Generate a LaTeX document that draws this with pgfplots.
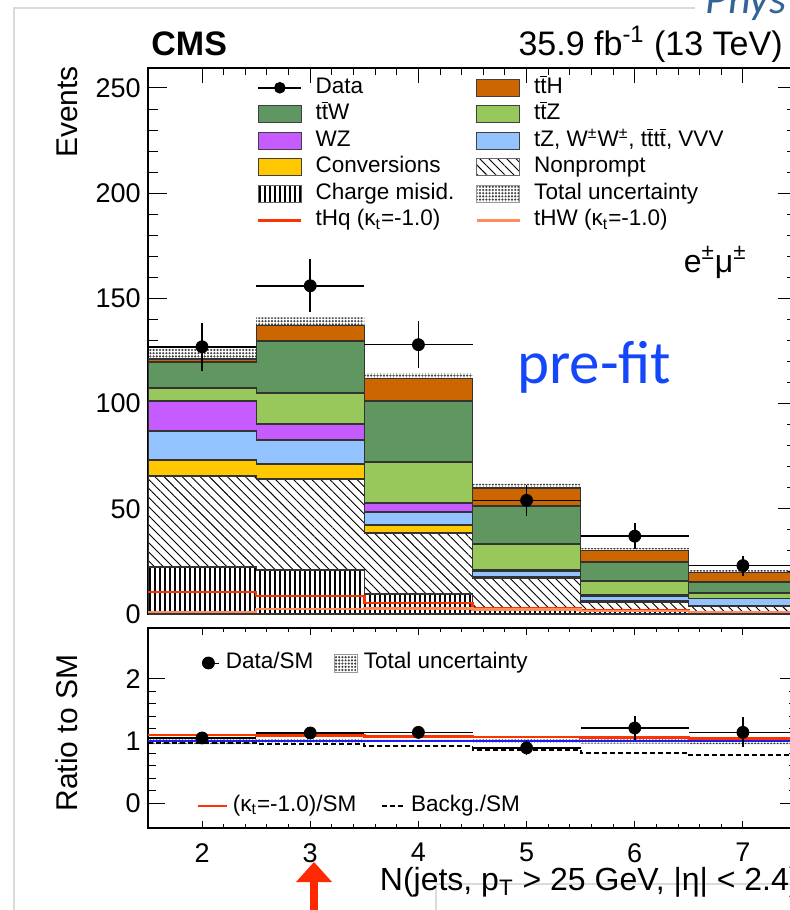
\documentclass[border=0pt]{standalone}
\usepackage{pgfplots}
\pgfplotsset{compat=1.18}
\usepackage{pgfplotstable}
\usepgfplotslibrary{fillbetween}
\usetikzlibrary{patterns,patterns.meta}
\usepackage{fontspec}
\setmainfont{Liberation Sans}
\newfontfamily\calibri{Carlito}

\definecolor{cTTH}{RGB}{204,102,0}
\definecolor{cTTW}{RGB}{96,150,96}
\definecolor{cTTZ}{RGB}{152,200,92}
\definecolor{cWZ}{RGB}{198,92,255}
\definecolor{cOTH}{RGB}{148,196,255}
\definecolor{cCONV}{RGB}{255,200,0}
\definecolor{cTHQ}{RGB}{255,51,0}
\definecolor{cTHW}{RGB}{255,140,90}
\definecolor{cPRE}{RGB}{20,70,250}
\definecolor{cPHYS}{RGB}{50,100,150}
\definecolor{cFRAME}{RGB}{218,218,218}
\definecolor{cARROW}{RGB}{255,40,0}
\definecolor{cBLUE}{RGB}{30,30,235}

\newcommand{\tb}{\ensuremath{\overline{\mbox{t}}}}
\newcommand{\Lc}[1]{\makebox[80pt][l]{#1}}

\tikzset{
 nphatch/.style={pattern={Lines[angle=-45,distance=3.2pt,line width=0.45pt]}, pattern color=black},
 cmhatch/.style={pattern={Lines[angle=90,distance=2.5pt,line width=0.55pt]}, pattern color=black},
 unchatch/.style={pattern={Dots[distance=1.6pt,radius=0.6pt]}, pattern color=black!75},
}

% stack tops (cumulative), bin edges; last row repeats the last bin
\pgfplotstableread{
x    cm    np    conv  oth   wz    ttz   ttw   tth   ulo   uhi   thq  thw
1.5  22.3  65.6  73.2  87.0  101.2 107.4 119.8 121.2 115.5 127.0 10.4 1.0
2.5  20.9  64.2  71.3  82.7  90.3  105.0 129.8 137.0 133.5 141.0 8.6  2.4
3.5  9.5   38.5  42.3  48.5  52.8  72.2  101.2 111.8 109.5 114.5 5.2  2.6
4.5  3.0   17.1  18.0  20.4  21.2  33.3  51.3  59.9  58.3  61.8  2.6  2.0
5.5  1.5   5.7   6.6   8.6   9.0   15.7  24.7  30.2  29.0  31.3  1.6  1.4
6.5  1.0   3.5   4.2   7.2   7.4   10.0  15.2  19.8  18.8  20.8  1.0  1.0
7.5  1.0   3.5   4.2   7.2   7.4   10.0  15.2  19.8  18.8  20.8  1.0  1.0
}\stack

\pgfplotstableread{
x  y    ey   ex
2  127  11.3 0.5
3  156  12.5 0.5
4  128  11.3 0.5
5  54   7.3  0.5
6  37   6.1  0.5
7  23   4.8  0.5
}\data

\pgfplotstableread{
x  r     er   ex
2  1.05  0.09 0.5
3  1.13  0.09 0.5
4  1.14  0.10 0.5
5  0.89  0.12 0.5
6  1.21  0.20 0.5
7  1.14  0.24 0.5
}\ratio

\pgfplotstableread{
x    kt    bkg   ulo   uhi   one
1.5  1.10  0.97  0.95  1.05  1
2.5  1.09  0.95  0.97  1.03  1
3.5  1.075 0.915 0.98  1.02  1
4.5  1.065 0.86  0.97  1.03  1
5.5  1.055 0.81  0.96  1.04  1
6.5  1.04  0.775 0.95  1.05  1
7.5  1.04  0.775 0.95  1.05  1
}\rlines

\begin{document}
\begin{tikzpicture}
% slide frame and decorations (drawn first, beneath the chart)
\draw[cFRAME, line width=1pt] (7pt,-470pt) -- (7pt,-4pt) -- (347.5pt,-4pt);
\node[anchor=base west, inner sep=0pt, font=\calibri\itshape\fontsize{22}{24}\selectfont, text=cPHYS] at (352.5pt,-6.5pt) {Phys};
\draw[cFRAME, line width=1pt, fill=white] (218pt,-442pt) rectangle (410pt,-470pt);
\fill[cARROW] (157pt,-431pt) -- (148pt,-441pt) -- (166pt,-441pt) -- cycle;
\fill[cARROW] (155pt,-441pt) rectangle (159pt,-460pt);

\begin{axis}[
  name=up, at={(74pt,-307pt)}, anchor=south west, scale only axis,
  width=324.5pt, height=273pt,
  xmin=1.5, xmax=7.5, ymin=0, ymax=259.5,
  xtick={2,3,4,5,6,7}, xticklabels={}, minor x tick num=4,
  ytick={0,50,100,150,200,250}, minor y tick num=4,
  tick align=inside, tick pos=both,
  major tick length=9.5pt, minor tick length=4.8pt,
  every major x tick/.append style={/pgfplots/major tick length=7.5pt},
  every minor x tick/.append style={/pgfplots/minor tick length=3.5pt},
  axis line style={line width=0.7pt},
  every tick/.style={black, line width=0.5pt},
  /pgf/number format/assume math mode=true,
  yticklabel style={font=\fontsize{13.5}{14}\selectfont, inner sep=0pt, xshift=-3.5pt},
  ylabel={Events},
  ylabel style={at={(rel axis cs:-0.108,1.004)}, anchor=base east, inner sep=0pt, font=\fontsize{15}{16}\selectfont},
  legend columns=2,
  legend cell align=left,
  legend style={at={(rel axis cs:0.168,0.983)}, anchor=north west, draw=none, fill=none,
     inner sep=0pt, outer sep=0pt,
     font=\fontsize{11.25}{13}\selectfont,
     nodes={inner sep=0pt, text height=8pt, text depth=2.5pt},
     row sep=2.75pt,
     /tikz/every odd column/.append style={column sep=6.5pt},
     /tikz/every even column/.append style={column sep=0pt}},
]
% legend entries (row-wise)
\addlegendimage{legend image code/.code={\draw[black, line width=0.8pt] (0pt,0pt) -- (21.5pt,0pt); \fill[black] (10.75pt,0pt) circle (2.7pt);}}
\addlegendentry{\Lc{Data}}
\addlegendimage{legend image code/.code={\draw[fill=cTTH, draw=black!75, line width=0.5pt] (0pt,-4.25pt) rectangle (21.5pt,4.25pt);}}
\addlegendentry{t\tb H}
\addlegendimage{legend image code/.code={\draw[fill=cTTW, draw=black!75, line width=0.5pt] (0pt,-4.25pt) rectangle (21.5pt,4.25pt);}}
\addlegendentry{\Lc{t\tb W}}
\addlegendimage{legend image code/.code={\draw[fill=cTTZ, draw=black!75, line width=0.5pt] (0pt,-4.25pt) rectangle (21.5pt,4.25pt);}}
\addlegendentry{t\tb Z}
\addlegendimage{legend image code/.code={\draw[fill=cWZ, draw=black!75, line width=0.5pt] (0pt,-4.25pt) rectangle (21.5pt,4.25pt);}}
\addlegendentry{\Lc{WZ}}
\addlegendimage{legend image code/.code={\draw[fill=cOTH, draw=black!75, line width=0.5pt] (0pt,-4.25pt) rectangle (21.5pt,4.25pt);}}
\addlegendentry{tZ, W\textsuperscript{±}W\textsuperscript{±}, t\tb t\tb, VVV}
\addlegendimage{legend image code/.code={\draw[fill=cCONV, draw=black!75, line width=0.5pt] (0pt,-4.25pt) rectangle (21.5pt,4.25pt);}}
\addlegendentry{\Lc{Conversions}}
\addlegendimage{legend image code/.code={\fill[white] (0pt,-4.25pt) rectangle (21.5pt,4.25pt); \draw[nphatch, draw=black!60, line width=0.5pt] (0pt,-4.25pt) rectangle (21.5pt,4.25pt);}}
\addlegendentry{Nonprompt}
\addlegendimage{legend image code/.code={\fill[white] (0pt,-4.25pt) rectangle (21.5pt,4.25pt); \draw[cmhatch, draw=black!60, line width=0.5pt] (0pt,-4.25pt) rectangle (21.5pt,4.25pt);}}
\addlegendentry{\Lc{Charge misid.}}
\addlegendimage{legend image code/.code={\draw[unchatch, draw=black!40, line width=0.5pt] (0pt,-4.25pt) rectangle (21.5pt,4.25pt);}}
\addlegendentry{Total uncertainty}
\addlegendimage{legend image code/.code={\draw[cTHQ, line width=1.3pt] (0pt,0pt) -- (21.5pt,0pt);}}
\addlegendentry{\Lc{tHq (κ\textsubscript{t}=-1.0)}}
\addlegendimage{legend image code/.code={\draw[cTHW, line width=1.3pt] (0pt,0pt) -- (21.5pt,0pt);}}
\addlegendentry{tHW (κ\textsubscript{t}=-1.0)}

% stacked histogram (cumulative tops)
\addplot[const plot, fill=cTTH, draw=black!80, line width=0.6pt, forget plot] table[x=x,y=tth]{\stack} \closedcycle;
\addplot[const plot, fill=cTTW, draw=black!80, line width=0.6pt, forget plot] table[x=x,y=ttw]{\stack} \closedcycle;
\addplot[const plot, fill=cTTZ, draw=black!80, line width=0.6pt, forget plot] table[x=x,y=ttz]{\stack} \closedcycle;
\addplot[const plot, fill=cWZ, draw=black!80, line width=0.6pt, forget plot] table[x=x,y=wz]{\stack} \closedcycle;
\addplot[const plot, fill=cOTH, draw=black!80, line width=0.6pt, forget plot] table[x=x,y=oth]{\stack} \closedcycle;
\addplot[const plot, fill=cCONV, draw=black!80, line width=0.6pt, forget plot] table[x=x,y=conv]{\stack} \closedcycle;
\addplot[const plot, fill=white, draw=none, forget plot] table[x=x,y=np]{\stack} \closedcycle;
\addplot[const plot, nphatch, draw=black!80, line width=0.6pt, forget plot] table[x=x,y=np]{\stack} \closedcycle;
\addplot[const plot, fill=white, draw=none, forget plot] table[x=x,y=cm]{\stack} \closedcycle;
\addplot[const plot, cmhatch, draw=black!80, line width=0.6pt, forget plot] table[x=x,y=cm]{\stack} \closedcycle;
% total uncertainty band
\addplot[const plot, draw=none, name path=ulo, forget plot] table[x=x,y=ulo]{\stack};
\addplot[const plot, draw=none, name path=uhi, forget plot] table[x=x,y=uhi]{\stack};
\addplot[unchatch, forget plot] fill between[of=ulo and uhi];
% signal lines
\addplot[const plot, cTHQ, line width=1.3pt, forget plot] table[x=x,y=thq]{\stack};
\addplot[const plot, cTHW, line width=1.3pt, forget plot] table[x=x,y=thw]{\stack};
% data
\addplot[only marks, mark=*, mark size=3pt, black, forget plot,
  error bars/.cd, x dir=both, x explicit, y dir=both, y explicit, error mark=none,
  error bar style={line width=0.8pt, black}]
  table[x=x, y=y, x error=ex, y error=ey]{\data};
\end{axis}

\begin{axis}[
  name=low, at={(74pt,-414pt)}, anchor=south west, scale only axis,
  width=324.5pt, height=100pt,
  xmin=1.5, xmax=7.5, ymin=-0.4, ymax=2.82,
  xtick={2,3,4,5,6,7}, minor x tick num=4,
  ytick={0,1,2}, minor y tick num=4,
  tick align=inside, tick pos=both,
  major tick length=8.5pt, minor tick length=4pt,
  every major x tick/.append style={/pgfplots/major tick length=3.5pt},
  every minor x tick/.append style={/pgfplots/minor tick length=1.8pt},
  axis line style={line width=0.7pt},
  every tick/.style={black, line width=0.5pt},
  /pgf/number format/assume math mode=true,
  yticklabel style={font=\fontsize{13.5}{14}\selectfont, inner sep=0pt, xshift=-3.5pt},
  xticklabel style={font=\fontsize{13.5}{14}\selectfont, inner sep=0pt, yshift=-7.5pt},
  ylabel={Ratio to SM},
  ylabel style={at={(rel axis cs:-0.108,0.475)}, anchor=base, inner sep=0pt, font=\fontsize{15}{16}\selectfont},
  xlabel={N(jets, p\textsubscript{T} > 25 GeV, |η| < 2.4)},
  xlabel style={at={(rel axis cs:1.0046,-0.31)}, anchor=base east, inner sep=0pt, font=\fontsize{16}{17}\selectfont},
  legend columns=2,
  legend cell align=left,
  legend style={at={(rel axis cs:0.0832,0.825)}, anchor=west, draw=none, fill=none,
     inner sep=0pt, outer sep=0pt,
     font=\fontsize{11.25}{13}\selectfont,
     nodes={inner sep=0pt, text height=8pt, text depth=2.5pt},
     /tikz/every odd column/.append style={column sep=3pt},
     /tikz/every even column/.append style={column sep=0pt}},
]
\addlegendimage{legend image code/.code={\path (0pt,0pt) -- (8.5pt,0pt); \fill[black] (3pt,0pt) circle (3pt);}}
\addlegendentry{\makebox[54pt][l]{Data/SM}}
\addlegendimage{legend image code/.code={\draw[unchatch, draw=black!40, line width=0.5pt] (0pt,-4.5pt) rectangle (11.5pt,4.5pt);}}
\addlegendentry{Total uncertainty}

\addplot[const plot, draw=none, name path=rlo, forget plot] table[x=x,y=ulo]{\rlines};
\addplot[const plot, draw=none, name path=rhi, forget plot] table[x=x,y=uhi]{\rlines};
\addplot[unchatch, forget plot] fill between[of=rlo and rhi];
\addplot[const plot, cBLUE, line width=1.2pt, forget plot] table[x=x,y=one]{\rlines};
\addplot[const plot, cTHQ, line width=1.2pt, forget plot] table[x=x,y=kt]{\rlines};
\addplot[const plot, black, line width=0.9pt, dash pattern=on 2.5pt off 1.5pt, forget plot] table[x=x,y=bkg]{\rlines};
\addplot[only marks, mark=*, mark size=3pt, black, forget plot,
  error bars/.cd, x dir=both, x explicit, y dir=both, y explicit, error mark=none,
  error bar style={line width=0.8pt, black}]
  table[x=x, y=r, x error=ex, y error=er]{\ratio};
\end{axis}

% second legend row of the ratio panel
\begin{axis}[
  at={(74pt,-414pt)}, anchor=south west, scale only axis,
  width=324.5pt, height=100pt,
  xmin=1.5, xmax=7.5, ymin=-0.4, ymax=2.82,
  axis lines=none, ticks=none,
  legend columns=2,
  legend cell align=left,
  legend style={at={(rel axis cs:0.0755,0.11)}, anchor=west, draw=none, fill=none,
     inner sep=0pt, outer sep=0pt,
     font=\fontsize{11.25}{13}\selectfont,
     nodes={inner sep=0pt, text height=8pt, text depth=2.5pt},
     /tikz/every odd column/.append style={column sep=2.25pt},
     /tikz/every even column/.append style={column sep=0pt}},
]
\addplot[draw=none, forget plot] coordinates {(2,1)};
\addlegendimage{legend image code/.code={\draw[cTHQ, line width=1.2pt] (0pt,0pt) -- (14.5pt,0pt);}}
\addlegendentry{\makebox[74pt][l]{(κ\textsubscript{t}=-1.0)/SM}}
\addlegendimage{legend image code/.code={\draw[black, line width=0.9pt, dash pattern=on 2.5pt off 1.5pt] (0pt,0pt) -- (12pt,0pt);}}
\addlegendentry{Backg./SM}
\end{axis}

% texts
\node[anchor=base west, inner sep=0pt, font=\bfseries\fontsize{17}{18}\selectfont] at (75.5pt,-27.5pt) {CMS};
\node[anchor=base east, inner sep=0pt, font=\fontsize{17}{18}\selectfont] at (391.5pt,-27.5pt) {35.9 fb\textsuperscript{-1} (13 TeV)};
\node[anchor=base east, inner sep=0pt, font=\fontsize{16}{17}\selectfont] at (373.5pt,-136pt) {e\textsuperscript{±}μ\textsuperscript{±}};
\node[anchor=base west, inner sep=0pt, font=\calibri\fontsize{30.5}{32}\selectfont, text=cPRE] at (258.5pt,-191.5pt) {pre-fit};

\pgfresetboundingbox
\path[use as bounding box] (0pt,0pt) rectangle (395pt,-455pt);
\end{tikzpicture}
\end{document}
